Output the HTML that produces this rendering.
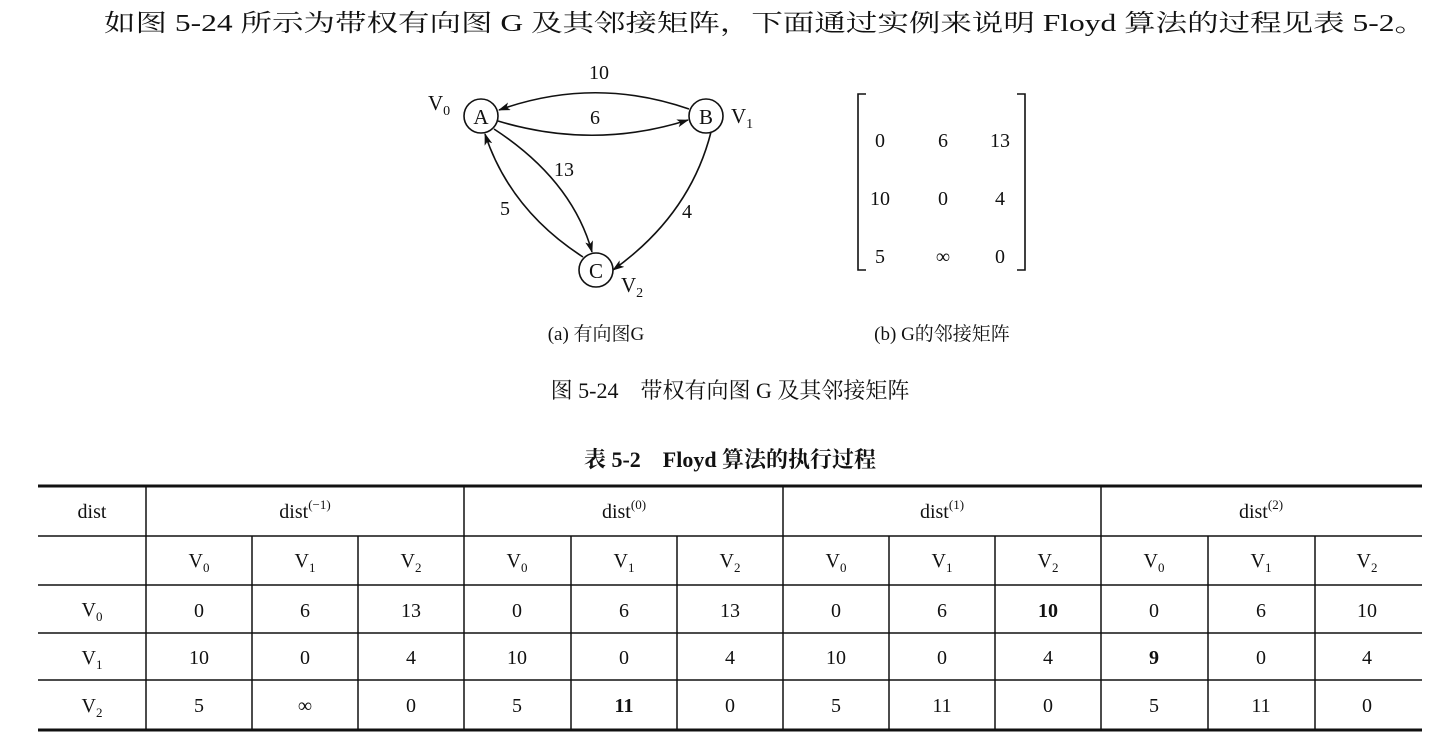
<!DOCTYPE html>
<html><head><meta charset="utf-8"><style>
html,body{margin:0;padding:0;background:#fff;}
svg{display:block;}
text{font-family:"Liberation Serif","Noto Serif CJK SC",serif;fill:#111;}
.c{text-anchor:middle;font-size:20px;}
.b{font-weight:bold;}
</style></head><body>
<svg width="1452" height="752" viewBox="0 0 1452 752" xmlns="http://www.w3.org/2000/svg">
<defs><marker id="ar" markerWidth="12" markerHeight="8" refX="11" refY="4" orient="auto" markerUnits="userSpaceOnUse"><path d="M0,0 L12,4 L0,8 L3,4 Z" fill="#111"/></marker></defs>
<text x="104" y="31" style="font-size:24px" textLength="1322" lengthAdjust="spacingAndGlyphs">如图 5-24 所示为带权有向图 G 及其邻接矩阵，下面通过实例来说明 Floyd 算法的过程见表 5-2。</text>
<g fill="none" stroke="#111" stroke-width="1.6">
<circle cx="481" cy="116" r="17"/><circle cx="706" cy="116" r="17"/><circle cx="596" cy="270" r="17"/>
<path d="M689,109 Q594,76 499,110" marker-end="url(#ar)"/>
<path d="M498,121 Q594,150 688,120" marker-end="url(#ar)"/>
<path d="M494,129 Q572,180 592,252" marker-end="url(#ar)"/>
<path d="M583,257 Q510,210 485,134" marker-end="url(#ar)"/>
<path d="M711,132 Q690,215 613,270" marker-end="url(#ar)"/>
<path d="M866,94 h-8 v176 h8 M1017,94 h8 v176 h-8"/>
</g>
<g class="c">
<text x="481" y="124" style="font-size:21px">A</text><text x="706" y="124" style="font-size:21px">B</text><text x="596" y="278" style="font-size:21px">C</text>
<text x="599" y="79">10</text><text x="595" y="124">6</text><text x="564" y="176">13</text><text x="505" y="215">5</text><text x="687" y="218">4</text>
<text x="880" y="147">0</text><text x="943" y="147">6</text><text x="1000" y="147">13</text>
<text x="880" y="205">10</text><text x="943" y="205">0</text><text x="1000" y="205">4</text>
<text x="880" y="263">5</text><text x="943" y="263">∞</text><text x="1000" y="263">0</text>
</g>
<text x="428" y="110" style="font-size:21px">V<tspan font-size="14" dy="5">0</tspan></text>
<text x="731" y="123" style="font-size:21px">V<tspan font-size="14" dy="5">1</tspan></text>
<text x="621" y="292" style="font-size:21px">V<tspan font-size="14" dy="5">2</tspan></text>
<text x="596" y="340" class="c" style="font-size:19px">(a) 有向图G</text>
<text x="942" y="340" class="c" style="font-size:19px">(b) G的邻接矩阵</text>
<text x="730" y="398" class="c" style="font-size:22px">图 5-24　带权有向图 G 及其邻接矩阵</text>
<text x="730" y="467" class="c b" style="font-size:22px">表 5-2　Floyd 算法的执行过程</text>
<g stroke="#111">
<line x1="38" y1="486" x2="1422" y2="486" stroke-width="3"/>
<line x1="38" y1="730" x2="1422" y2="730" stroke-width="3"/>
<line x1="38" y1="536" x2="1422" y2="536" stroke-width="1.5"/>
<line x1="38" y1="585" x2="1422" y2="585" stroke-width="1.5"/>
<line x1="38" y1="633" x2="1422" y2="633" stroke-width="1.5"/>
<line x1="38" y1="680" x2="1422" y2="680" stroke-width="1.5"/>
<g stroke-width="1.5">
<line x1="146" y1="486" x2="146" y2="730"/><line x1="464" y1="486" x2="464" y2="730"/><line x1="783" y1="486" x2="783" y2="730"/><line x1="1101" y1="486" x2="1101" y2="730"/>
<line x1="252" y1="536" x2="252" y2="730"/><line x1="358" y1="536" x2="358" y2="730"/>
<line x1="571" y1="536" x2="571" y2="730"/><line x1="677" y1="536" x2="677" y2="730"/>
<line x1="889" y1="536" x2="889" y2="730"/><line x1="995" y1="536" x2="995" y2="730"/>
<line x1="1208" y1="536" x2="1208" y2="730"/><line x1="1315" y1="536" x2="1315" y2="730"/>
</g></g>
<g class="c">
<text x="92" y="518">dist</text>
<text x="305" y="518">dist<tspan font-size="13" dy="-9">(−1)</tspan></text>
<text x="624" y="518">dist<tspan font-size="13" dy="-9">(0)</tspan></text>
<text x="942" y="518">dist<tspan font-size="13" dy="-9">(1)</tspan></text>
<text x="1261" y="518">dist<tspan font-size="13" dy="-9">(2)</tspan></text>
<text x="199" y="567">V<tspan font-size="13" dy="5">0</tspan></text><text x="305" y="567">V<tspan font-size="13" dy="5">1</tspan></text><text x="411" y="567">V<tspan font-size="13" dy="5">2</tspan></text>
<text x="517" y="567">V<tspan font-size="13" dy="5">0</tspan></text><text x="624" y="567">V<tspan font-size="13" dy="5">1</tspan></text><text x="730" y="567">V<tspan font-size="13" dy="5">2</tspan></text>
<text x="836" y="567">V<tspan font-size="13" dy="5">0</tspan></text><text x="942" y="567">V<tspan font-size="13" dy="5">1</tspan></text><text x="1048" y="567">V<tspan font-size="13" dy="5">2</tspan></text>
<text x="1154" y="567">V<tspan font-size="13" dy="5">0</tspan></text><text x="1261" y="567">V<tspan font-size="13" dy="5">1</tspan></text><text x="1367" y="567">V<tspan font-size="13" dy="5">2</tspan></text>
<text x="92" y="616">V<tspan font-size="13" dy="5">0</tspan></text>
<text x="92" y="664">V<tspan font-size="13" dy="5">1</tspan></text>
<text x="92" y="712">V<tspan font-size="13" dy="5">2</tspan></text>
<text x="199" y="617">0</text><text x="305" y="617">6</text><text x="411" y="617">13</text><text x="517" y="617">0</text><text x="624" y="617">6</text><text x="730" y="617">13</text><text x="836" y="617">0</text><text x="942" y="617">6</text><text x="1048" y="617" class="b">10</text><text x="1154" y="617">0</text><text x="1261" y="617">6</text><text x="1367" y="617">10</text>
<text x="199" y="664">10</text><text x="305" y="664">0</text><text x="411" y="664">4</text><text x="517" y="664">10</text><text x="624" y="664">0</text><text x="730" y="664">4</text><text x="836" y="664">10</text><text x="942" y="664">0</text><text x="1048" y="664">4</text><text x="1154" y="664" class="b">9</text><text x="1261" y="664">0</text><text x="1367" y="664">4</text>
<text x="199" y="712">5</text><text x="305" y="712">∞</text><text x="411" y="712">0</text><text x="517" y="712">5</text><text x="624" y="712" class="b">11</text><text x="730" y="712">0</text><text x="836" y="712">5</text><text x="942" y="712">11</text><text x="1048" y="712">0</text><text x="1154" y="712">5</text><text x="1261" y="712">11</text><text x="1367" y="712">0</text>
</g>
</svg>
</body></html>
